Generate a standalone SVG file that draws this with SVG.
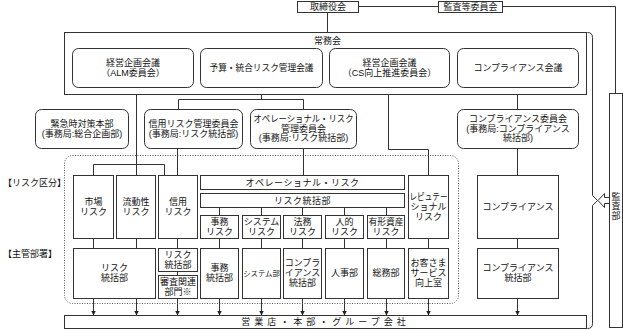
<svg xmlns="http://www.w3.org/2000/svg" width="623" height="330" viewBox="0 0 623 330">
<defs>
<style>
.b{fill:#fff;stroke:#333;stroke-width:1}
.d{fill:none;stroke:#555;stroke-width:1;stroke-dasharray:1 1.5}
.c{fill:none;stroke:#333;stroke-width:1}
text{font-family:"Liberation Sans","Noto Sans CJK JP",sans-serif;font-size:9px;fill:#111;text-anchor:middle}
.l{text-anchor:start}
</style>
<marker id="ar" markerWidth="6" markerHeight="6" refX="5" refY="3" orient="auto" markerUnits="userSpaceOnUse">
<path d="M0,0.5 L5,3 L0,5.5 z" fill="#222"/>
</marker>
</defs>
<rect width="623" height="330" fill="#fff"/>

<g id="connectors">
<path class="c" d="M327.5,12.5 V32.5"/>
<path class="c" d="M358.5,6.5 H438.5"/>
<path class="c" d="M502.5,6.5 H615.5 V93.5"/>
<path class="c" d="M136.5,87.5 V175.5"/>
<path class="c" d="M93.5,175.5 V164.5 H164.5 V175.5"/>
<path class="c" d="M261.5,87.5 V99.5"/>
<path class="c" d="M178.5,109.5 V99.5 H303.5 V109.5"/>
<path class="c" d="M303.5,148.5 V175.5"/>
<path class="c" d="M177.5,148.5 V175.5"/>
<path class="c" d="M388.5,87.5 V149.5 H428.5 V175.5"/>
<path class="c" d="M517.5,87.5 V109.5"/>
<path class="c" d="M517.5,148.5 V175.5"/>
<path class="c" d="M219.5,207.5 V215.5 M261.5,207.5 V215.5 M302.5,207.5 V215.5 M344.5,207.5 V215.5 M386.5,207.5 V215.5"/>
<path class="c" d="M219.5,238.5 V248.5 M261.5,238.5 V248.5 M302.5,238.5 V248.5 M344.5,238.5 V248.5 M386.5,238.5 V248.5"/>
<path class="c" d="M93.5,238.5 V248.5 M136.5,238.5 V248.5 M177.5,238.5 V248.5 M177.5,271.5 V275.5 M428.5,238.5 V248.5 M517.5,238.5 V248.5"/>
<g marker-end="url(#ar)">
<path class="c" d="M93.5,298.5 V315.5"/>
<path class="c" d="M136.5,298.5 V315.5"/>
<path class="c" d="M177.5,298.5 V315.5"/>
<path class="c" d="M219.5,298.5 V315.5"/>
<path class="c" d="M261.5,298.5 V315.5"/>
<path class="c" d="M302.5,298.5 V315.5"/>
<path class="c" d="M344.5,298.5 V315.5"/>
<path class="c" d="M386.5,298.5 V315.5"/>
<path class="c" d="M428.5,298.5 V315.5"/>
<path class="c" d="M517.5,298.5 V315.5"/>
</g>
<path class="c" d="M587.5,32.5 Q592.5,32.5 592.5,37.5 V195.5 L597.5,200.5 L592.5,205.5 V323.5 Q592.5,328.5 587.5,328.5"/>
<path class="c" d="M598,200.5 L604.5,193.5 V197.5 H609.5 M609.5,203.5 H604.5 V207.5 L598,200.5"/>
</g>

<g id="board"><rect class="b" x="297.5" y="1.5" width="61" height="11"/><text x="328" y="10.2">取締役会</text></g>
<g id="audit-committee"><rect class="b" x="438.5" y="1.5" width="64" height="11"/><text x="470.5" y="10.2">監査等委員会</text></g>
<g id="executive"><rect class="b" x="64.5" y="32.5" width="522" height="62"/><text x="327.5" y="43.5">常務会</text></g>

<g id="alm"><rect class="b" x="72.5" y="48.5" width="121" height="39" rx="6"/><text x="133" y="66">経営企画会議<tspan x="133" dy="10">（ALM委員会）</tspan></text></g>
<g id="budget"><rect class="b" x="200.5" y="48.5" width="122" height="39" rx="6"/><text x="261.5" y="71" textLength="104" lengthAdjust="spacingAndGlyphs">予算・統合リスク管理会議</text></g>
<g id="cs"><rect class="b" x="329.5" y="48.5" width="120" height="39" rx="6"/><text x="389.5" y="66">経営企画会議<tspan x="389.5" dy="10">（CS向上推進委員会）</tspan></text></g>
<g id="comp-meeting"><rect class="b" x="457.5" y="48.5" width="121" height="39" rx="6"/><text x="518" y="71">コンプライアンス会議</text></g>

<g id="emergency"><rect class="b" x="35.5" y="109.5" width="93" height="39" rx="6"/><text x="82" y="127">緊急時対策本部<tspan x="82" dy="10">(事務局:総合企画部)</tspan></text></g>
<g id="credit-committee"><rect class="b" x="144.5" y="109.5" width="98" height="39" rx="6"/><text x="193.5" y="127">信用リスク管理委員会<tspan x="193.5" dy="10">(事務局:リスク統括部)</tspan></text></g>
<g id="op-committee"><rect class="b" x="250.5" y="109.5" width="106" height="39" rx="6"/><text x="303.5" y="122"><tspan x="303.5" textLength="100" lengthAdjust="spacingAndGlyphs">オペレーショナル・リスク</tspan><tspan x="303.5" dy="9.5">管理委員会</tspan><tspan x="303.5" dy="9.5">(事務局:リスク統括部)</tspan></text></g>
<g id="comp-committee"><rect class="b" x="457.5" y="109.5" width="121" height="39" rx="6"/><text x="518" y="122">コンプライアンス委員会<tspan x="518" dy="9.5">(事務局:コンプライアンス</tspan><tspan x="518" dy="9.5">統括部)</tspan></text></g>

<rect class="d" x="64.5" y="155.5" width="394" height="148" rx="8"/>
<text class="l" x="3" y="185.5">【リスク区分】</text>
<text class="l" x="3" y="256.5">【主管部署】</text>

<g id="market"><rect class="b" x="73.5" y="175.5" width="40" height="63"/><text x="93.5" y="205">市場<tspan x="93.5" dy="10">リスク</tspan></text></g>
<g id="liquidity"><rect class="b" x="116.5" y="175.5" width="39" height="63"/><text x="136" y="205">流動性<tspan x="136" dy="10">リスク</tspan></text></g>
<g id="credit"><rect class="b" x="158.5" y="175.5" width="39" height="63"/><text x="178" y="205">信用<tspan x="178" dy="10">リスク</tspan></text></g>
<g id="operational"><rect class="b" x="200.5" y="175.5" width="204" height="14"/><text x="302.5" y="185.8" letter-spacing="0.5">オペレーショナル・リスク</text></g>
<g id="risk-bar"><rect class="b" x="200.5" y="193.5" width="204" height="14"/><text x="302.5" y="203.8" letter-spacing="0.5">リスク統括部</text></g>
<g id="admin-risk"><rect class="b" x="200.5" y="215.5" width="38" height="23"/><text x="219.5" y="225.3">事務<tspan x="219.5" dy="9.2">リスク</tspan></text></g>
<g id="system-risk"><rect class="b" x="242.5" y="215.5" width="38" height="23"/><text x="261.5" y="225.3">システム<tspan x="261.5" dy="9.2">リスク</tspan></text></g>
<g id="legal-risk"><rect class="b" x="283.5" y="215.5" width="38" height="23"/><text x="302.5" y="225.3">法務<tspan x="302.5" dy="9.2">リスク</tspan></text></g>
<g id="human-risk"><rect class="b" x="325.5" y="215.5" width="38" height="23"/><text x="344.5" y="225.3">人的<tspan x="344.5" dy="9.2">リスク</tspan></text></g>
<g id="asset-risk"><rect class="b" x="367.5" y="215.5" width="37" height="23"/><text x="386" y="225.3"><tspan x="386" textLength="35" lengthAdjust="spacingAndGlyphs">有形資産</tspan><tspan x="386" dy="9.2">リスク</tspan></text></g>
<g id="reputation"><rect class="b" x="408.5" y="175.5" width="40" height="63"/><text x="428.5" y="200"><tspan x="428.5" textLength="38" lengthAdjust="spacingAndGlyphs">レピュテー</tspan><tspan x="428.5" dy="10">ショナル</tspan><tspan x="428.5" dy="10">リスク</tspan></text></g>
<g id="compliance"><rect class="b" x="477.5" y="175.5" width="81" height="63"/><text x="518" y="210">コンプライアンス</text></g>

<g id="risk-dept"><rect class="b" x="73.5" y="248.5" width="82" height="50"/><text x="114.5" y="271">リスク<tspan x="114.5" dy="10">統括部</tspan></text></g>
<g id="risk-dept2"><rect class="b" x="158.5" y="248.5" width="39" height="23"/><text x="178" y="258.3">リスク<tspan x="178" dy="9.2">統括部</tspan></text></g>
<g id="credit-dept"><rect class="b" x="158.5" y="275.5" width="39" height="23"/><text x="178" y="285.3"><tspan x="178" textLength="36" lengthAdjust="spacingAndGlyphs">審査関連</tspan><tspan x="178" dy="9.2">部門※</tspan></text></g>
<g id="admin-dept"><rect class="b" x="200.5" y="248.5" width="38" height="50"/><text x="219.5" y="271">事務<tspan x="219.5" dy="10">統括部</tspan></text></g>
<g id="system-dept"><rect class="b" x="242.5" y="248.5" width="38" height="50"/><text x="261.5" y="276" style="font-size:7.4px">システム部</text></g>
<g id="comp-dept1"><rect class="b" x="283.5" y="248.5" width="38" height="50"/><text x="302.5" y="266">コンプラ<tspan x="302.5" dy="10">イアンス</tspan><tspan x="302.5" dy="10">統括部</tspan></text></g>
<g id="hr-dept"><rect class="b" x="325.5" y="248.5" width="38" height="50"/><text x="344.5" y="276">人事部</text></g>
<g id="ga-dept"><rect class="b" x="367.5" y="248.5" width="37" height="50"/><text x="386" y="276">総務部</text></g>
<g id="cs-dept"><rect class="b" x="408.5" y="248.5" width="40" height="50"/><text x="428.5" y="266">お客さま<tspan x="428.5" dy="10">サービス</tspan><tspan x="428.5" dy="10">向上室</tspan></text></g>
<g id="comp-dept"><rect class="b" x="477.5" y="248.5" width="81" height="50"/><text x="518" y="271">コンプライアンス<tspan x="518" dy="10">統括部</tspan></text></g>

<g id="branches"><rect class="b" x="64.5" y="315.5" width="522" height="13"/><text x="325.5" y="325.3" letter-spacing="4">営業店・本部・グループ会社</text></g>
<g id="audit-dept"><rect class="b" x="609.5" y="93.5" width="13" height="234"/><text x="616" y="199.5">監<tspan x="616" dy="9.5">査</tspan><tspan x="616" dy="9.5">部</tspan></text></g>
</svg>
